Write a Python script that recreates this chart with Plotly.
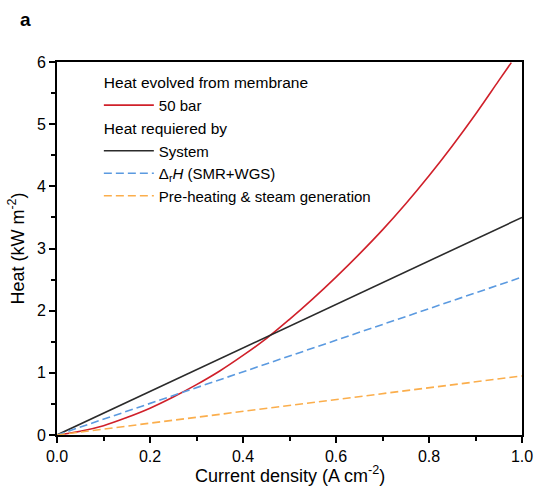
import plotly.graph_objects as go

# Data
x_red = [0.0, 0.05, 0.1, 0.15, 0.2, 0.25, 0.3, 0.35, 0.4, 0.45, 0.5, 0.55, 0.6, 0.65,
         0.7, 0.75, 0.8, 0.85, 0.9, 0.95, 0.977]
y_red = [0.0, 0.06, 0.15, 0.28, 0.43, 0.61, 0.81, 1.03, 1.28, 1.55, 1.86, 2.19, 2.54, 2.91,
         3.30, 3.72, 4.17, 4.65, 5.16, 5.70, 5.99]

x_lin = [0.0, 0.1, 0.2, 0.3, 0.4, 0.5, 0.6, 0.7, 0.8, 0.9, 1.0]
y_system = [0.0, 0.35, 0.70, 1.05, 1.40, 1.75, 2.10, 2.45, 2.80, 3.16, 3.50]
y_dh = [0.0, 0.255, 0.51, 0.765, 1.02, 1.275, 1.53, 1.785, 2.04, 2.295, 2.54]
y_pre = [0.0, 0.095, 0.19, 0.285, 0.38, 0.475, 0.57, 0.665, 0.76, 0.855, 0.95]

FONT = "Liberation Sans, Arial, sans-serif"

fig = go.Figure()
fig.add_trace(go.Scatter(x=x_red, y=y_red, mode="lines", name="50 bar",
                         line=dict(color="#d0202a", width=1.6, shape="spline"),
                         legendgroup="g1", legendgrouptitle_text="Heat evolved from membrane"))
fig.add_trace(go.Scatter(x=x_lin, y=y_system, mode="lines", name="System",
                         line=dict(color="#2b2b2b", width=1.6),
                         legendgroup="g2", legendgrouptitle_text="Heat requiered by"))
fig.add_trace(go.Scatter(x=x_lin, y=y_dh, mode="lines", name="Δ<sub>r</sub><i>H</i> (SMR+WGS)",
                         line=dict(color="#5b9ae0", width=1.6, dash="8px,4px"),
                         legendgroup="g2"))
fig.add_trace(go.Scatter(x=x_lin, y=y_pre, mode="lines", name="Pre-heating & steam generation",
                         line=dict(color="#fbae4c", width=1.6, dash="8px,4px"),
                         legendgroup="g2"))

axis_common = dict(
    showline=True, linecolor="black", linewidth=1.8, mirror=True,
    ticks="outside", ticklen=6, tickwidth=1.5, tickcolor="black",
    showgrid=False, zeroline=False, automargin=False,
    tickfont=dict(family=FONT, size=16, color="black"),
)

fig.update_xaxes(range=[0, 1.0], tick0=0, dtick=0.2, tickformat=".1f",
                 minor=dict(dtick=0.1, ticks="outside", ticklen=4, tickwidth=1.5, tickcolor="black"),
                 **axis_common)
fig.update_yaxes(range=[0, 6], tick0=0, dtick=1,
                 minor=dict(dtick=0.5, ticks="outside", ticklen=4, tickwidth=1.5, tickcolor="black"),
                 title=dict(text="Heat (kW m<sup>-2</sup>)",
                            font=dict(family=FONT, size=18, color="black"), standoff=8),
                 **axis_common)

pw, ph = 535 - 57 - 13, 491 - 62 - 56

fig.update_layout(
    width=535, height=491,
    margin=dict(l=57, r=13, t=62, b=56, autoexpand=False),
    plot_bgcolor="white", paper_bgcolor="white",
    font=dict(family=FONT, size=15, color="black"),
    showlegend=True,
    legend=dict(x=0.09, y=0.99, xanchor="left", yanchor="top",
                bgcolor="rgba(0,0,0,0)", tracegroupgap=0, itemwidth=50,
                font=dict(family=FONT, size=15, color="black"),
                grouptitlefont=dict(family=FONT, size=15.5, color="black")),
    annotations=[
        dict(text="<b>a</b>", x=(18 - 57) / pw, y=(435 - 20) / ph,
             xref="paper", yref="paper", xanchor="left", yanchor="middle", showarrow=False,
             font=dict(family=FONT, size=19, color="black")),
        dict(text="Current density (A cm<sup>-2</sup>)", x=0.5, y=-(474 - 435) / ph,
             xref="paper", yref="paper", xanchor="center", yanchor="middle", showarrow=False,
             font=dict(family=FONT, size=18, color="black")),
    ],
)

fig.write_html("out.html")
